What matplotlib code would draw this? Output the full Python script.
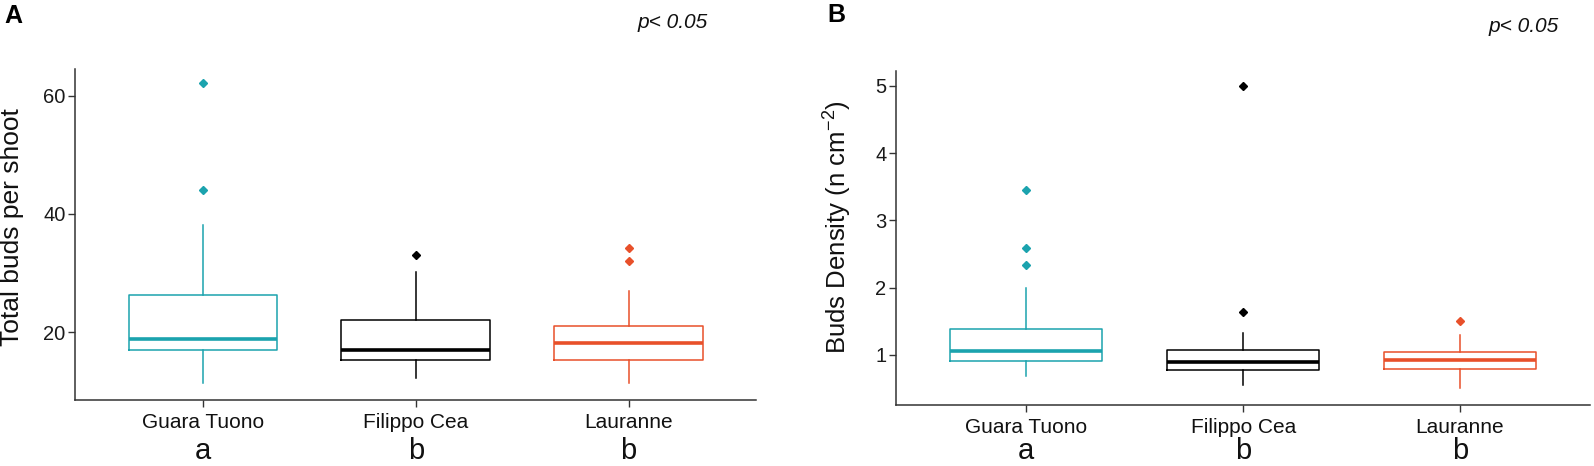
import matplotlib
matplotlib.use("Agg")
import matplotlib.pyplot as plt

plt.rcParams['font.family'] = ['Liberation Sans', 'DejaVu Sans']
plt.rcParams['mathtext.fontset'] = 'custom'
plt.rcParams['mathtext.rm'] = 'Liberation Sans'
plt.rcParams['mathtext.it'] = 'Liberation Sans:italic'

# ---------------- data ----------------
cultivars = ["Guara Tuono", "Filippo Cea", "Lauranne"]
letters = ["a", "b", "b"]
colors = ["#1BA3AE", "#000000", "#E8502A"]

# Panel A: Total buds per shoot
a_whislo = [11.3, 12.2, 11.3]
a_q1 = [17.0, 15.2, 15.2]
a_med = [18.9, 17.0, 18.1]
a_q3 = [26.2, 22.1, 21.0]
a_whishi = [38.1, 30.1, 27.0]
a_fliers = [[62.2, 44.0], [33.1], [34.2, 32.0]]

# Panel B: Buds density (n cm-2)
b_whislo = [0.69, 0.55, 0.51]
b_q1 = [0.91, 0.77, 0.79]
b_med = [1.05, 0.89, 0.92]
b_q3 = [1.38, 1.07, 1.035]
b_whishi = [2.00, 1.32, 1.29]
b_fliers = [[3.45, 2.59, 2.33], [5.0, 1.635], [1.505]]

a_yticks = [20, 40, 60]
b_yticks = [1, 2, 3, 4, 5]

W, H = 1594, 466
fig = plt.figure(figsize=(W / 100, H / 100), dpi=100)


def px_ax(l, t, r, b):
    return fig.add_axes([l / W, 1 - b / H, (r - l) / W, (b - t) / H])


def draw_panel(ax, whislo, q1, med, q3, whishi, fliers, ylim, yticks, letter_y):
    for i in range(len(cultivars)):
        st = [dict(whislo=whislo[i], q1=q1[i], med=med[i], q3=q3[i],
                   whishi=whishi[i], fliers=fliers[i])]
        c = colors[i]
        ax.bxp(st, positions=[i], widths=0.7, showcaps=False,
               boxprops=dict(color=c, linewidth=1.1),
               whiskerprops=dict(color=c, linewidth=1.1),
               medianprops=dict(color=c, linewidth=2.6, solid_capstyle='butt'),
               flierprops=dict(marker='D', markerfacecolor=c,
                               markeredgecolor=c, markersize=4.2))
    ax.set_xlim(-0.6, 2.6)
    ax.set_ylim(*ylim)
    ax.set_yticks(yticks)
    ax.set_xticks(range(len(cultivars)))
    ax.set_xticklabels(cultivars, fontsize=15, color='#111111')
    ax.tick_params(axis='y', labelsize=14.5, colors='#333333',
                   labelcolor='#1a1a1a', length=5, width=1, pad=2)
    ax.tick_params(axis='x', length=5, width=1, colors='#333333',
                   labelcolor='#111111', pad=4)
    for s in ['top', 'right']:
        ax.spines[s].set_visible(False)
    for s in ['left', 'bottom']:
        ax.spines[s].set_color('#333333')
        ax.spines[s].set_linewidth(1.1)
    tr = ax.get_xaxis_transform()
    for i, l in enumerate(letters):
        ax.text(i, letter_y, l, transform=tr, ha='center', va='baseline',
                fontsize=21, color='#111111')


axA = px_ax(75.3, 69.3, 756.3, 400)
draw_panel(axA, a_whislo, a_q1, a_med, a_q3, a_whishi, a_fliers,
           (8.5, 64.5), a_yticks, -0.179)

axB = px_ax(896.3, 71, 1590, 405.3)
draw_panel(axB, b_whislo, b_q1, b_med, b_q3, b_whishi, b_fliers,
           (0.25, 5.22), b_yticks, -0.161)


def ftext(x, y, s, **kw):
    fig.text(x / W, 1 - y / H, s, **kw)


ftext(12.5, 227, "Total buds per shoot", rotation=90, ha='center',
      va='center', fontsize=19, color='#111111')
ftext(838, 227.5, "Buds Density (n cm$^{-2}$)", rotation=90, ha='center',
      va='center', fontsize=18.5, color='#111111')

ftext(13.5, 16, "A", fontweight='bold', fontsize=18, ha='center', va='center')
ftext(836, 15, "B", fontweight='bold', fontsize=18, ha='center', va='center')

ftext(673, 22.7, "p< 0.05", fontstyle='italic', fontsize=15,
      ha='center', va='center', color='#111111')
ftext(1523.7, 26, "p< 0.05", fontstyle='italic', fontsize=15,
      ha='center', va='center', color='#111111')

fig.savefig("out.png", dpi=100)
